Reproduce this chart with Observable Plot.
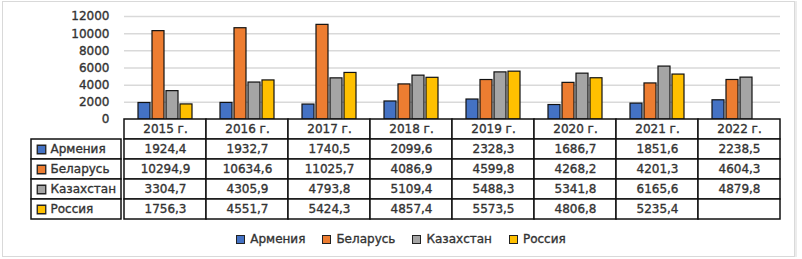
<!DOCTYPE html>
<html><head><meta charset="utf-8">
<script src="https://cdn.jsdelivr.net/npm/d3@7"></script>
<script src="https://cdn.jsdelivr.net/npm/@observablehq/plot@0.6"></script>
<style>
body{margin:0;background:#fff;}
#wrap{position:relative;width:802px;height:259px;font-family:"DejaVu Sans",sans-serif;overflow:hidden;}
#frame{position:absolute;left:2px;top:1px;width:793px;height:256px;border:1px solid #d9d9d9;box-sizing:border-box;box-shadow:2px 0 0 #ececec;}
.layer{position:absolute;left:0;}
.layer svg{overflow:visible;}
.layer text{stroke:#333;stroke-width:0.35px;paint-order:stroke;}
#legend{position:absolute;top:232px;left:0;width:802px;display:flex;justify-content:center;gap:17px;font-size:12px;font-weight:normal;color:#333;line-height:14px;-webkit-text-stroke:0.35px #333;}
#legend .it{display:flex;align-items:center;}
#legend .sw{width:7px;height:7px;border:1.5px solid #222;margin-right:5px;}
</style></head>
<body>
<div id="wrap"><div id="frame"></div>
<div class="layer" id="chart" style="top:0"></div>
<div class="layer" id="table" style="top:118px"></div>
<div class="layer" id="labels" style="top:118px"></div>
<div id="legend"></div>
</div>
<script>
const years = ["2015 г.","2016 г.","2017 г.","2018 г.","2019 г.","2020 г.","2021 г.","2022 г."];
const countries = ["Армения","Беларусь","Казахстан","Россия"];
const colors = ["#4472C4","#ED7D31","#A5A5A5","#FFC000"];
const armenia = [1924.4,1932.7,1740.5,2099.6,2328.3,1686.7,1851.6,2238.5];
const belarus = [10294.9,10634.6,11025.7,4086.9,4599.8,4268.2,4201.3,4604.3];
const kazakhstan = [3304.7,4305.9,4793.8,5109.4,5488.3,5341.8,6165.6,4879.8];
const russia = [1756.3,4551.7,5424.3,4857.4,5573.5,4806.8,5235.4,null];
const yTicks = [0,2000,4000,6000,8000,10000,12000];

const series = [armenia, belarus, kazakhstan, russia];
const data = [];
series.forEach((vals, ci) => vals.forEach((v, yi) => data.push({year: years[yi], country: countries[ci], value: v})));

const font = {fontFamily:"DejaVu Sans", fontSize:"12px", fontWeight:"normal", color:"#333", background:"transparent", overflow:"visible"};

const chart = Plot.plot({
  width: 802, height: 121,
  marginTop: 16, marginBottom: 2, marginLeft: 121, marginRight: 20,
  style: font,
  fx: {domain: years, padding: 0, axis: null},
  x: {domain: countries, paddingInner: 0.133, paddingOuter: 0.82, axis: null},
  y: {domain: [0, 12000], axis: null},
  color: {domain: countries, range: colors},
  marks: [
    Plot.gridY(yTicks, {stroke: "#d9d9d9", strokeOpacity: 1, strokeWidth: 1.5}),
    Plot.axisY(yTicks, {tickSize: 0, tickPadding: 15, label: null, tickFormat: d => String(d), fill: "#333"}),
    Plot.barY(data.filter(d => d.value != null), {fx: "year", x: "country", y: "value", fill: "country", stroke: "#111", strokeWidth: 1.2})
  ]
});
document.getElementById("chart").appendChild(chart);

const fmt = v => v == null ? "" : v.toFixed(1).replace(".", ",");
const cells = years.map(y => ({year: y, row: "header", label: y}));
data.forEach(d => cells.push({year: d.year, row: d.country, label: fmt(d.value)}));

const table = Plot.plot({
  width: 802, height: 102,
  marginTop: 1, marginBottom: 1, marginLeft: 121, marginRight: 20,
  style: font,
  x: {domain: years, padding: 0, axis: null},
  y: {domain: ["header", ...countries], padding: 0, axis: null},
  marks: [
    Plot.cell(cells, {x: "year", y: "row", fill: "white", stroke: "#111", strokeWidth: 1.5}),
    Plot.text(cells, {x: "year", y: "row", text: "label", fill: "#333"})
  ]
});
document.getElementById("table").appendChild(table);

const labelRows = countries.map(c => ({col: "label", row: c}));
const labels = Plot.plot({
  width: 802, height: 102,
  marginTop: 1, marginBottom: 1, marginLeft: 31, marginRight: 681,
  style: font,
  x: {domain: ["label"], padding: 0, axis: null},
  y: {domain: ["header", ...countries], padding: 0, axis: null},
  color: {domain: countries, range: colors},
  marks: [
    Plot.cell(labelRows, {x: "col", y: "row", fill: "white", stroke: "#111", strokeWidth: 1.5}),
    Plot.dot(labelRows, {x: "col", y: "row", symbol: "square", r: 4.8, fill: "row", stroke: "#222", strokeWidth: 1.3, dx: -35}),
    Plot.text(labelRows, {x: "col", y: "row", text: "row", textAnchor: "start", dx: -26, fill: "#333"})
  ]
});
document.getElementById("labels").appendChild(labels);

const legend = document.getElementById("legend");
countries.forEach((c, i) => {
  const it = document.createElement("div"); it.className = "it";
  const sw = document.createElement("span"); sw.className = "sw"; sw.style.background = colors[i];
  const t = document.createElement("span"); t.textContent = c;
  it.appendChild(sw); it.appendChild(t); legend.appendChild(it);
});
</script>
</body></html>
